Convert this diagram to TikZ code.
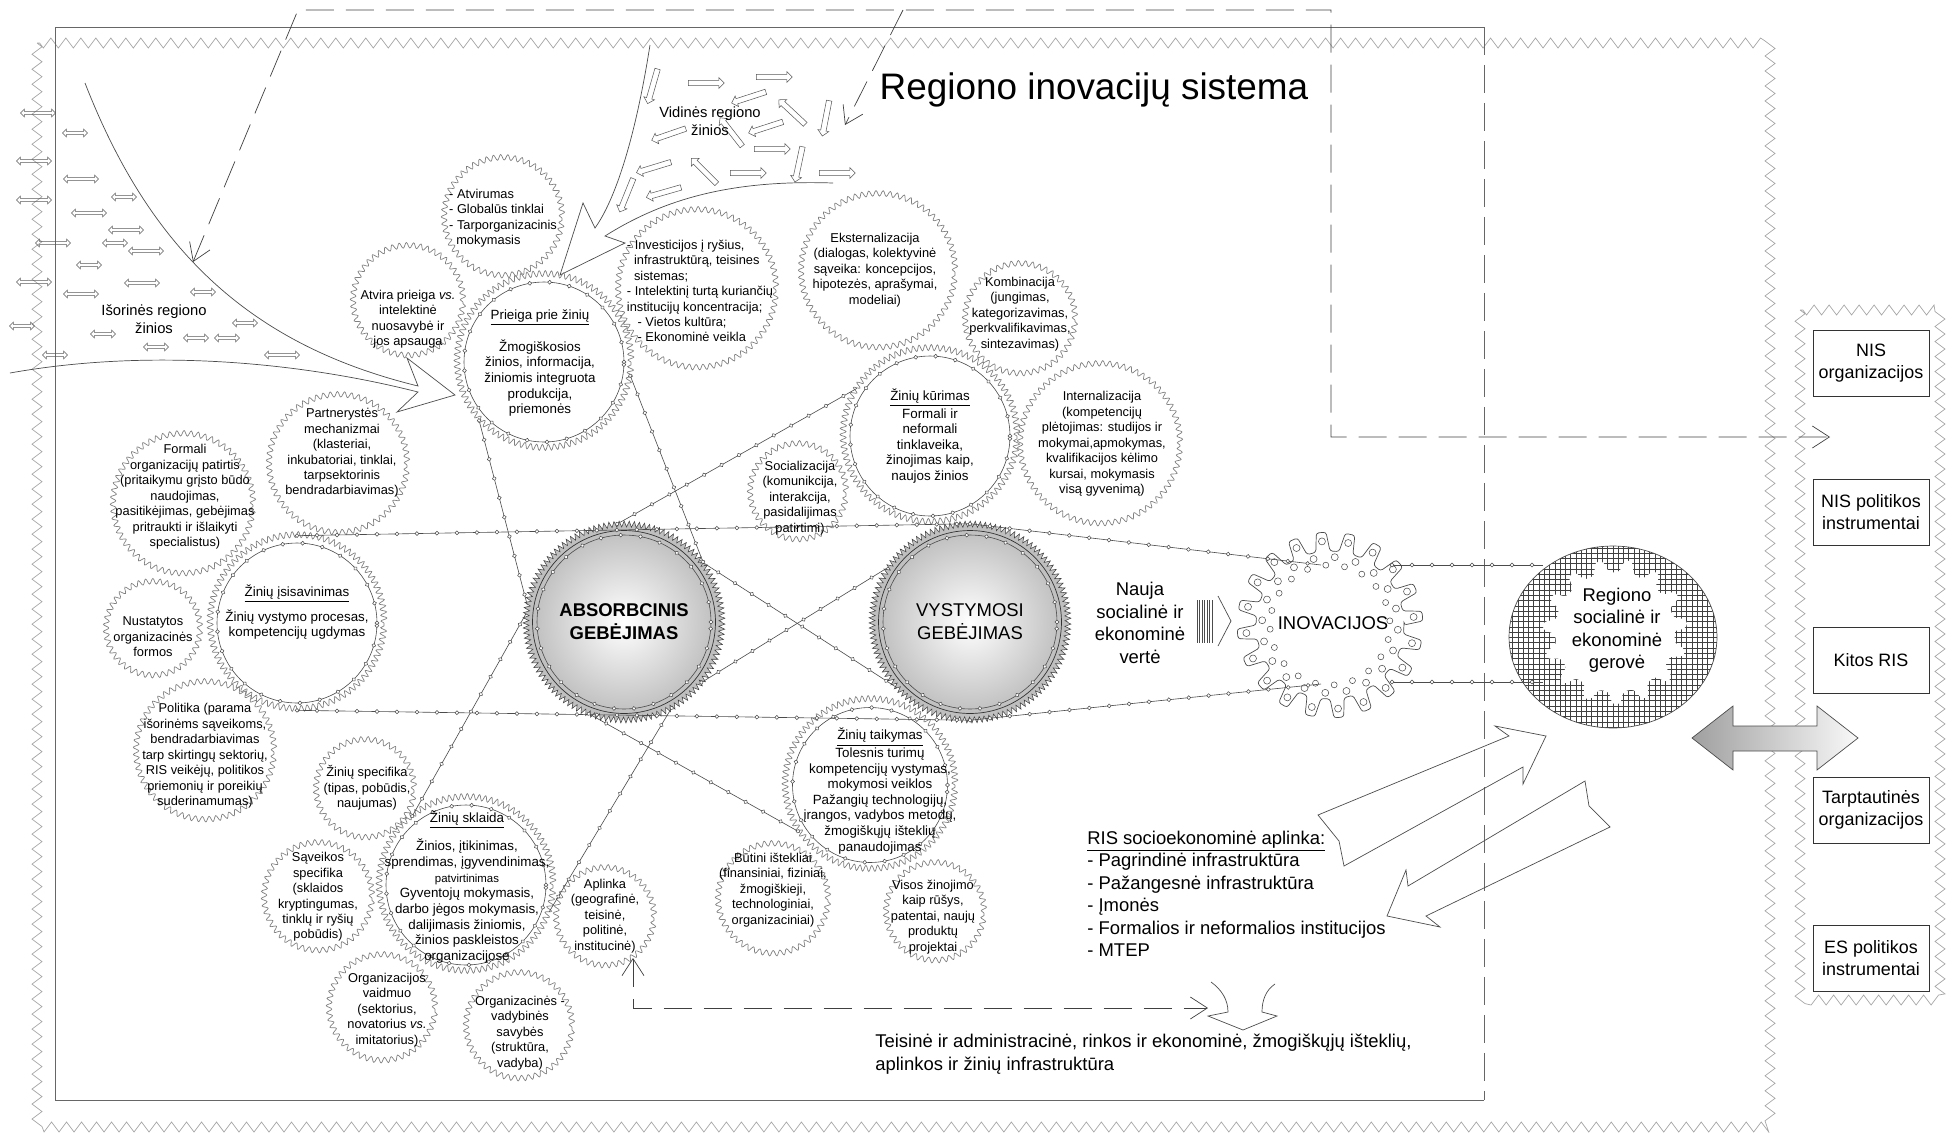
\documentclass[tikz,border=0pt]{standalone}
\usepackage{fontspec}
\setmainfont{Liberation Sans}
\usetikzlibrary{arrows.meta,decorations.pathmorphing,decorations.markings,shapes.arrows,patterns}

\begin{document}
\begin{tikzpicture}[x=0.02cm,y=-0.02cm,>={Straight Barb[length=0.34cm,width=0.44cm]},
    txt/.style={align=center,inner sep=0pt,font=\fontsize{7.3}{8.8}\selectfont},
    gtxt/.style={align=center,inner sep=0pt,font=\fontsize{7.6}{8.9}\selectfont},
    big/.style={align=center,inner sep=0pt,font=\fontsize{10.5}{12.8}\selectfont},
    sat/.style={circle,draw=gray,inner sep=0pt,decorate,decoration={snake,amplitude=0.055cm,segment length=0.14cm}},
    gear/.style={circle,draw=gray,inner sep=0pt,minimum size=3.48cm,decorate,decoration={snake,amplitude=0.06cm,segment length=0.12cm}},
    teeth/.style={circle,inner sep=0pt,minimum size=3.92cm,draw=gray!50!black,fill=gray!50,line width=0.3pt,decorate,decoration={zigzag,amplitude=0.06cm,segment length=0.1cm}},
    capa/.style={circle,inner sep=0pt,minimum size=3.66cm,draw=gray!40!black,inner color=white,outer color=gray!50,align=center,font=\fontsize{10.5}{13}\selectfont},
    beads/.style={draw=gray!60!black,line width=0.35pt,postaction={decorate,decoration={markings,mark=between positions 0 and 1 step 0.4cm with {\draw[fill=white,draw=gray!60!black,line width=0.3pt] (0,0) circle (1.1pt);}}}},
    zzframe/.style={draw=gray!70,decorate,decoration={zigzag,amplitude=0.1cm,segment length=0.3cm}},
    dashline/.style={draw=black!75,dash pattern=on 0.56cm off 0.24cm},
    dbl/.style={double arrow,draw=gray!70!black,line width=0.3pt,inner sep=0.8pt,double arrow head extend=1.3pt},
    sgl/.style={single arrow,draw=gray!70!black,line width=0.3pt,inner sep=1.4pt,single arrow head extend=1.6pt,minimum height=0.72cm},
    rbox/.style={draw=black!80,minimum width=2.32cm,minimum height=1.32cm,inner sep=0.5pt,align=center,font=\fontsize{10.2}{12.6}\selectfont}]
  \useasboundingbox (0,0) rectangle (1952,1133);

  % frames
  \draw[zzframe] (37,43) rectangle (1770,1127);
  \draw[zzframe] (1800,310) rectangle (1940,1000);
  \draw[gray!80!black] (1484,27) -- (55,27) -- (55,1100) -- (1484,1100);
  \draw[gray!80!black,dash pattern=on 0.56cm off 0.2cm] (1484,27) -- (1484,1100);
  \node[font=\fontsize{21}{25}\selectfont] (title) at (1094,90) {Regiono inovacijų sistema};

  % external and internal knowledge
  \draw[gray!60!black] (85,83) .. controls (150,250) and (250,345) .. (418,386) -- (407,358) -- (455,395) -- (397,412) -- (418,392) .. controls (300,362) and (150,348) .. (10,373);
  \draw[gray!60!black] (650,45) .. controls (635,140) and (615,200) .. (595,228) -- (583,203) -- (560,275) -- (625,243) -- (605,236) .. controls (670,195) and (740,180) .. (833,183);
  \foreach \x/\y/\l [count=\i] in {38/113/0.7,75/133/0.5,34/161/0.7,81/179/0.7,124/197/0.5,34/200/0.7,89/213/0.7,126/230/0.7,53/243/0.7,115/243/0.5,146/251/0.7,89/265/0.5,142/283/0.7,34/282/0.7,81/294/0.7,203/292/0.5,245/323/0.5,22/326/0.5,103/334/0.5,196/338/0.5,227/338/0.5,156/347/0.5,55/355/0.5,282/355/0.7}
    \node[dbl,minimum height=\l cm] (isr\i) at (\x,\y) {};
  \foreach \x/\y/\r [count=\i] in {653/85/254,705/83/0,773/77/0,750/97/198,793/113/137,826/117/259,670/134/199,732/133/128,767/127/198,771/149/0,799/163/258,655/167/197,705/172/135,747/173/0,836/173/0,627/194/248,665/192/196}
    \node[sgl,rotate=\r] (vid\i) at (\x,\y) {};
  \node[font=\fontsize{8.4}{10.2}\selectfont,align=center] (isor) at (154,319) {Išorinės regiono\\žinios};
  \node[font=\fontsize{8.4}{10.2}\selectfont,align=center] (vidin) at (710,121) {Vidinės regiono\\žinios};

  % satellites
  \node[sat,minimum size=2.36cm] (atv) at (503,218) {};
  \node[sat,minimum size=2.2cm] (atvira) at (408,302) {};
  \node[sat,minimum size=3.16cm] (invest) at (697,290) {};
  \node[sat,minimum size=3.08cm] (ekst) at (878,272) {};
  \node[sat,minimum size=2.2cm] (komb) at (1020,320) {};
  \node[sat,minimum size=3.2cm] (intern) at (1100,445) {};
  \node[sat,minimum size=1.92cm] (soc) at (798,493) {};
  \node[sat,minimum size=2.76cm] (partn) at (338,465) {};
  \node[sat,minimum size=2.8cm] (formali) at (183,505) {};
  \node[sat,minimum size=1.88cm] (nustat) at (153,630) {};
  \node[sat,minimum size=2.76cm] (polit) at (205,752) {};
  \node[sat,minimum size=1.96cm] (specif) at (365,790) {};
  \node[sat,minimum size=2.16cm] (saveik) at (318,898) {};
  \node[sat,minimum size=2.12cm] (vaidm) at (382,1009) {};
  \node[sat,minimum size=2.12cm] (vadyb) at (519,1027) {};
  \node[sat,minimum size=1.96cm] (aplinka) at (605,918) {};
  \node[sat,minimum size=2.2cm] (butini) at (773,900) {};
  \node[sat,minimum size=1.96cm] (visos) at (935,913) {};

  % process gears
  \node[gear] (prieiga) at (544,362) {};
  \node[gear] (isisav) at (297,623) {};
  \node[gear] (kurimas) at (930,436) {};
  \node[gear,minimum size=3.4cm] (taikymas) at (870,785) {};
  \node[gear] (sklaida) at (466,885) {};
  \foreach \g in {prieiga,isisav,kurimas,sklaida}
    \draw[beads] (\g) circle (1.6cm);
  \draw[beads] (taikymas) circle (1.55cm);

  % capabilities
  \node[teeth] (absg) at (624,622) {};
  \node[teeth] (vystg) at (970,622) {};
  \node[capa,font=\fontsize{10.5}{13}\selectfont\bfseries] (abs) at (absg) {ABSORBCINIS\\GEBĖJIMAS};
  \node[capa] (vyst) at (vystg) {VYSTYMOSI\\GEBĖJIMAS};
  \draw[beads] (abs) circle (1.74cm);
  \draw[beads] (vyst) circle (1.74cm);

  % innovations and welfare
  \draw[gray!60!black,fill=white,rounded corners=1.5pt,shift={(1330,625)}]
    (0:1.48cm) \foreach \a in {0,18,...,342} {-- (\a+2.5:1.86cm) -- (\a+8.5:1.86cm) -- (\a+11:1.48cm) -- (\a+18:1.48cm)} -- cycle;
  \foreach \a in {0,18,...,342}
    \draw[gray!60!black,line width=0.3pt,shift={(1330,625)}] (\a+5.5:1.68cm) circle (0.07cm) (\a+14:1.36cm) circle (0.07cm) (\a+4:1.2cm) circle (0.06cm);
  \node[big] (inov) at (1333,623) {INOVACIJOS};
  \draw[gray!60!black,pattern=grid,pattern color=black!75] (1613,637) ellipse (2.08cm and 1.82cm);
  \fill[white,rounded corners=2pt,shift={(1615,632)}]
    (0:1.2cm) \foreach \a in {0,24,...,336} {-- (\a+4:1.45cm) -- (\a+10:1.45cm) -- (\a+14:1.2cm) -- (\a+24:1.2cm)} -- cycle;
  \node[big] (gerove) at (1617,630) {Regiono\\socialinė ir\\ekonominė\\gerovė};

  % chains
  \coordinate (inv-a) at (1321,565);
  \coordinate (inv-b) at (1321,684);
  \coordinate (inv-c) at (1392,565);
  \coordinate (inv-d) at (1392,682);
  \coordinate (ger-a) at (1543,565);
  \coordinate (ger-b) at (1543,682);
  \draw[beads] (isisav.north) -- (vystg.north);
  \draw[beads] (isisav.south) -- (vystg.south);
  \draw[beads] (vystg.north) -- (inv-a);
  \draw[beads] (vystg.south) -- (inv-b);
  \draw[beads] (inv-c) -- (ger-a);
  \draw[beads] (inv-d) -- (ger-b);
  \draw[beads] (absg.38) -- (vystg.222);
  \draw[beads] (absg.322) -- (vystg.146);
  \draw[beads] (prieiga.222) -- (absg.170);
  \draw[beads] (prieiga.351) -- (absg.35);
  \draw[beads] (sklaida.128) -- (absg.175);
  \draw[beads] (absg.299) -- (sklaida.342);
  \draw[beads] (absg.94) -- (kurimas.147);
  \draw[beads] (absg.249) -- (taikymas.213);

  % texts
  \node[txt,align=left] (atv-t) at (503,218) {- Atvirumas\\- Globalūs tinklai\\- Tarporganizacinis\\\ \ mokymasis};
  \node[txt] (atvira-t) at (408,319) {Atvira prieiga \textit{vs.}\\intelektinė\\nuosavybė ir\\jos apsauga};
  \node[txt,align=left] (invest-t) at (700,291) {- Investicijos į ryšius,\\\ \ infrastruktūrą, teisines\\\ \ sistemas;\\- Intelektinį turtą kuriančių\\institucijų koncentracija;\\\ \ \ - Vietos kultūra;\\\ \ \ - Ekonominė veikla};
  \node[txt] (ekst-t) at (875,270) {Eksternalizacija\\(dialogas, kolektyvinė\\sąveika: koncepcijos,\\hipotezės, aprašymai,\\modeliai)};
  \node[txt] (komb-t) at (1020,314) {Kombinacija\\(jungimas,\\kategorizavimas,\\perkvalifikavimas,\\sintezavimas)};
  \node[txt] (intern-t) at (1102,444) {Internalizacija\\(kompetencijų\\plėtojimas: studijos ir\\mokymai,apmokymas,\\kvalifikacijos kėlimo\\kursai, mokymasis\\visą gyvenimą)};
  \node[txt] (soc-t) at (800,498) {Socializacija\\(komunikcija,\\interakcija,\\pasidalijimas\\patirtimi)};
  \node[txt] (partn-t) at (342,453) {Partnerystės\\mechanizmai\\(klasteriai,\\inkubatoriai, tinklai,\\tarpsektorinis\\bendradarbiavimas)};
  \node[txt] (formali-t) at (185,497) {Formali\\organizacijų patirtis\\(pritaikymu grįsto būdo\\naudojimas,\\pasitikėjimas, gebėjimas\\pritraukti ir išlaikyti\\specialistus)};
  \node[txt] (nustat-t) at (153,637) {Nustatytos\\organizacinės\\formos};
  \node[txt] (polit-t) at (205,756) {Politika (parama\\išorinėms sąveikoms,\\bendradarbiavimas\\tarp skirtingų sektorių,\\RIS veikėjų, politikos\\priemonių ir poreikių\\suderinamumas)};
  \node[txt] (specif-t) at (367,788) {Žinių specifika\\(tipas, pobūdis,\\naujumas)};
  \node[txt] (saveik-t) at (318,897) {Sąveikos\\specifika\\(sklaidos\\kryptingumas,\\tinklų ir ryšių\\pobūdis)};
  \node[txt] (vaidm-t) at (387,1010) {Organizacijos\\vaidmuo\\(sektorius,\\novatorius \textit{vs.}\\imitatorius)};
  \node[txt] (vadyb-t) at (520,1033) {Organizacinės -\\vadybinės\\savybės\\(struktūra,\\vadyba)};
  \node[txt] (aplinka-t) at (605,916) {Aplinka\\(geografinė,\\teisinė,\\politinė,\\institucinė)};
  \node[txt] (butini-t) at (773,890) {Būtini ištekliai\\(finansiniai, fiziniai,\\žmogiškieji,\\technologiniai,\\organizaciniai)};
  \node[txt] (visos-t) at (933,917) {Visos žinojimo\\kaip rūšys,\\patentai, naujų\\produktų\\projektai};
  \node[gtxt] (prieiga-t) at (540,363) {\underline{Prieiga prie žinių}\\[7pt]Žmogiškosios\\žinios, informacija,\\žiniomis integruota\\produkcija,\\priemonės};
  \node[gtxt] (isisav-t) at (297,612) {\underline{Žinių įsisavinimas}\\[3pt]Žinių vystymo procesas,\\kompetencijų ugdymas};
  \node[gtxt] (kurimas-t) at (930,436) {\underline{Žinių kūrimas}\\Formali ir\\neformali\\tinklaveika,\\žinojimas kaip,\\naujos žinios};
  \node[gtxt] (taikymas-t) at (880,791) {\underline{Žinių taikymas}\\Tolesnis turimų\\kompetencijų vystymas,\\mokymosi veiklos\\Pažangių technologijų,\\įrangos, vadybos metodų,\\žmogiškųjų išteklių\\panaudojimas};
  \node[gtxt] (sklaida-t) at (467,887) {\underline{Žinių sklaida}\\[5pt]Žinios, įtikinimas,\\sprendimas, įgyvendinimas,\\{\fontsize{6.5}{7}\selectfont patvirtinimas}\\Gyventojų mokymasis,\\darbo jėgos mokymasis,\\dalijimasis žiniomis,\\žinios paskleistos\\organizacijose};

  % value and environment
  \node[big] (nauja) at (1140,623) {Nauja\\socialinė ir\\ekonominė\\vertė};
  \foreach \x in {1197,1199.5,...,1212}
    \draw[gray!60!black,line width=0.3pt] (\x,600) -- (\x,643);
  \draw[gray!60!black] (1218,596) -- (1231,621) -- (1218,646);
  \node[big,align=left,anchor=west] (ris) at (1087,894) {\underline{RIS socioekonominė aplinka:}\\- Pagrindinė infrastruktūra\\- Pažangesnė infrastruktūra\\- Įmonės\\- Formalios ir neformalios institucijos\\- MTEP};
  \node[big,align=left,anchor=west] (infra) at (875,1054) {Teisinė ir administracinė, rinkos ir ekonominė, žmogiškųjų išteklių,\\aplinkos ir žinių infrastruktūra};
  \draw[gray!60!black] (1318,815) -- (1509,736) -- (1495,726) -- (1546,736) -- (1523,784) -- (1523,767) -- (1344,866) -- (1339,841) -- cycle;
  \draw[gray!60!black] (1585,781) -- (1408,886) -- (1406,870) -- (1387,916) -- (1440,927) -- (1426,916) -- (1610,827) -- (1589,806) -- cycle;
  \draw[gray!60!black] (1211,982) .. controls (1222,990) and (1228,1000) .. (1228,1012) -- (1208,1016) -- (1243,1030) -- (1277,1016) -- (1262,1012) .. controls (1262,1000) and (1266,990) .. (1275,984);

  % feedback
  \coordinate (isor-in) at (193,262);
  \coordinate (fb-a) at (298,10);
  \coordinate (fb-b) at (1331,10);
  \coordinate (fb-c) at (903,10);
  \coordinate (vid-in) at (845,125);
  \coordinate (nis-in) at (1830,437);
  \coordinate (apl-in) at (633,958);
  \coordinate (infra-in) at (1208,1008);
  \draw[dashline,<->] (isor-in) -- (fb-a) -- (fb-b) |- (nis-in);
  \draw[dashline,->] (fb-c) -- (vid-in);
  \draw[dashline,<->] (apl-in) |- (infra-in);

  % outside the region
  \node[rbox] (nisorg) at (1871,363) {NIS\\organizacijos};
  \node[rbox] (nispol) at (1871,512) {NIS politikos\\instrumentai};
  \node[rbox] (kitos) at (1871,660) {Kitos RIS};
  \node[rbox] (tarpt) at (1871,810) {Tarptautinės\\organizacijos};
  \node[rbox] (espol) at (1871,958) {ES politikos\\instrumentai};
  \shade[left color=gray!75,right color=gray!5,draw=gray!60!black] (1692,738) -- (1733,706) -- (1733,726) -- (1817,726) -- (1817,706) -- (1858,738) -- (1817,770) -- (1817,751) -- (1733,751) -- (1733,770) -- cycle;
\end{tikzpicture}
\end{document}
